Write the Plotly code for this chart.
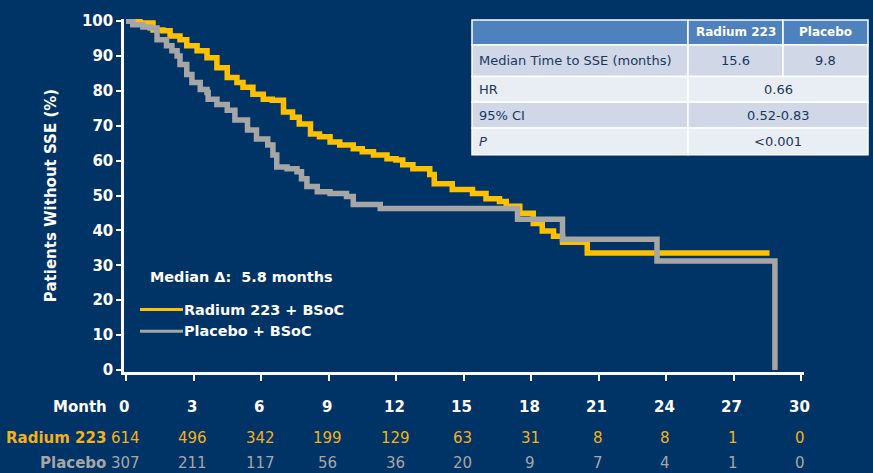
import plotly.graph_objects as go

# Kaplan-Meier style step data (months, % without SSE)
radium_months = [0, 0.62, 1.2, 1.64, 1.96, 2.4, 2.7, 3.16, 3.6, 4.04, 4.5, 4.93, 5.2, 5.64,
                 6.1, 6.5, 7.0, 7.4, 7.7, 8.2, 8.6, 9.07, 9.5, 10.1, 10.5, 11.0, 11.6, 12.0,
                 12.3, 12.75, 13.5, 13.7, 14.5, 15.4, 16.0, 16.6, 16.9, 17.5, 18.1, 18.5,
                 19.0, 19.4, 20.5, 28.6]
radium_pct = [100, 99.4, 97.4, 97.2, 95.7, 94.6, 92.9, 91.5, 89.5, 86.6, 83.8, 82.4, 81, 79,
              77.6, 77.3, 73.9, 72.4, 70.5, 67.6, 66.8, 65.3, 64.5, 63.4, 62.5, 61.6, 60.5, 60.2,
              58.8, 57.7, 56, 53.4, 51.7, 50.6, 49.1, 48.3, 46.9, 44.9, 42, 39.8,
              38.3, 36.6, 33.5, 33.5]

placebo_months = [0, 0.3, 0.75, 1.07, 1.38, 1.8, 2.04, 2.27, 2.4, 2.7, 2.93, 3.3, 3.6, 3.65,
                  4.04, 4.5, 4.84, 5.4, 5.8, 6.3, 6.53, 6.7, 7.16, 7.6, 7.8, 8.04, 8.5, 9.07,
                  9.8, 10.1, 11.3, 17.4, 19.4, 23.6, 28.84]
placebo_pct = [100, 98.9, 98.3, 98, 94.6, 92.9, 91.5, 90, 87.5, 84.7, 82.4, 80.4, 79.5, 77.6,
               76.1, 74.4, 71.6, 68.8, 66.2, 64.5, 61.6, 58.2, 57.7, 56.8, 54.8, 52.6, 51.1, 50.6,
               49.7, 47.4, 46.3, 43.2, 37.5, 31.2, 0]

series_names = ["Radium 223 + BSoC", "Placebo + BSoC"]

# Numbers at risk
risk_months = [0, 3, 6, 9, 12, 15, 18, 21, 24, 27, 30]
risk_radium = [614, 496, 342, 199, 129, 63, 31, 8, 8, 1, 0]
risk_placebo = [307, 211, 117, 56, 36, 20, 9, 7, 4, 1, 0]

# Summary table
table_header = ["", "Radium 223", "Placebo"]
table_rows = [
    ["Median Time to SSE (months)", "15.6", "9.8"],
    ["HR", "0.66"],
    ["95% CI", "0.52-0.83"],
    ["<i>P</i>", "&lt;0.001"],
]

y_ticks = list(range(0, 101, 10))

BG = "#003366"
YELLOW = "#FFC000"
GREY = "#A6A6A6"
YELLOW_TXT = "#F2B21C"
FONT = "DejaVu Sans"

W, H = 873, 473
ML, MR, MT, MB = 124, 69, 16, 101
PW, PH = W - ML - MR, H - MT - MB


def px(x):
    return (x - ML) / PW


def py(y):
    return (H - MB - y) / PH


fig = go.Figure()

fig.add_trace(go.Scatter(x=radium_months, y=radium_pct, mode="lines", line_shape="hv",
                         name=series_names[0], line=dict(color=YELLOW, width=5.5),
                         showlegend=False, hoverinfo="skip"))
fig.add_trace(go.Scatter(x=placebo_months, y=placebo_pct, mode="lines", line_shape="hv",
                         name=series_names[1], line=dict(color=GREY, width=5.5),
                         showlegend=False, hoverinfo="skip"))

annotations = []
shapes = []

bold15 = dict(family=FONT, size=15, color="white", weight="bold")
bold14 = dict(family=FONT, size=14.4, color="white", weight="bold")

annotations.append(dict(xref="paper", yref="paper", x=px(148), y=py(276), xanchor="left",
                        yanchor="middle", showarrow=False, text="Median Δ:  5.8 months",
                        font=bold14))

# hand-placed legend keys
for name, color, ly in zip(series_names, [YELLOW, GREY], [309, 331]):
    shapes.append(dict(type="line", xref="paper", yref="paper", x0=px(140), x1=px(183),
                       y0=py(ly), y1=py(ly), line=dict(color=color, width=3)))
    annotations.append(dict(xref="paper", yref="paper", x=px(182), y=py(ly), xanchor="left",
                            yanchor="middle", showarrow=False, text=name, font=bold14))

# number-at-risk rows
row_y = {"month": py(407), "radium": py(438.5), "placebo": py(463.5)}
annotations.append(dict(xref="paper", yref="paper", x=px(109), y=row_y["month"],
                        xanchor="right", yanchor="middle", showarrow=False, text="Month",
                        font=bold15))
annotations.append(dict(xref="paper", yref="paper", x=px(108), y=row_y["radium"],
                        xanchor="right", yanchor="middle", showarrow=False, text="Radium 223",
                        font=dict(family=FONT, size=15, color=YELLOW_TXT, weight="bold")))
annotations.append(dict(xref="paper", yref="paper", x=px(108), y=row_y["placebo"],
                        xanchor="right", yanchor="middle", showarrow=False, text="Placebo",
                        font=dict(family=FONT, size=15, color=GREY, weight="bold")))
for m, r, p in zip(risk_months, risk_radium, risk_placebo):
    annotations.append(dict(xref="x", yref="paper", x=m, y=row_y["month"], xshift=-2,
                            yanchor="middle", showarrow=False, text=str(m), font=bold15))
    annotations.append(dict(xref="x", yref="paper", x=m, y=row_y["radium"], xshift=-1,
                            yanchor="middle", showarrow=False, text=str(r),
                            font=dict(family=FONT, size=15, color=YELLOW_TXT)))
    annotations.append(dict(xref="x", yref="paper", x=m, y=row_y["placebo"], xshift=-1,
                            yanchor="middle", showarrow=False, text=str(p),
                            font=dict(family=FONT, size=15, color=GREY)))

# summary table drawn as cells
col_edges = [472, 688, 783, 868]
row_edges = [17, 42, 74, 100, 126, 153]
row_fills = ["#4F81BD", "#D0D8E8", "#E9EDF4", "#D0D8E8", "#E9EDF4"]
TXT = "#1B365D"


def cell(x0, x1, y0, y1, fill):
    shapes.append(dict(type="rect", xref="paper", yref="paper", x0=px(x0), x1=px(x1),
                       y0=py(y1), y1=py(y0), fillcolor=fill,
                       line=dict(color="white", width=1.5), layer="above"))


def cell_text(text, x0, x1, y0, y1, align="center", bold=False, color=TXT, size=13):
    if align == "left":
        x, xa = px(x0 + 5), "left"
    else:
        x, xa = px((x0 + x1) / 2), "center"
    annotations.append(dict(xref="paper", yref="paper", x=x, y=py((y0 + y1) / 2),
                            xanchor=xa, yanchor="middle", showarrow=False, text=text,
                            font=dict(family=FONT, size=size, color=color,
                                      weight="bold" if bold else "normal")))


# header row
for c in range(3):
    cell(col_edges[c], col_edges[c + 1], row_edges[0], row_edges[1], row_fills[0])
    if table_header[c]:
        cell_text(table_header[c], col_edges[c], col_edges[c + 1], row_edges[0], row_edges[1],
                  bold=True, color="white", size=12)

for r, row in enumerate(table_rows):
    y0, y1 = row_edges[r + 1], row_edges[r + 2]
    fill = row_fills[r + 1]
    cell(col_edges[0], col_edges[1], y0, y1, fill)
    cell_text(row[0], col_edges[0], col_edges[1], y0, y1, align="left")
    if len(row) == 3:
        for c in (1, 2):
            cell(col_edges[c], col_edges[c + 1], y0, y1, fill)
            cell_text(row[c], col_edges[c], col_edges[c + 1], y0, y1)
    else:
        cell(col_edges[1], col_edges[3], y0, y1, fill)
        cell_text(row[1], col_edges[1], col_edges[3], y0, y1)

fig.update_layout(
    width=W, height=H,
    margin=dict(l=ML, r=MR, t=MT, b=MB),
    paper_bgcolor=BG, plot_bgcolor=BG,
    font=dict(family=FONT, color="white"),
    showlegend=False,
    annotations=annotations,
    shapes=shapes,
)

fig.update_xaxes(range=[-0.089, 30.133], showgrid=False, zeroline=False,
                 showline=True, linecolor="white", linewidth=2.5,
                 ticks="outside", ticklen=6, tickwidth=2, tickcolor="white",
                 tickvals=risk_months, showticklabels=False)
fig.update_yaxes(range=[-0.57, 100.57], showgrid=False, zeroline=False,
                 showline=True, linecolor="white", linewidth=2.5,
                 ticks="outside", ticklen=5, tickwidth=2, tickcolor="white",
                 tickvals=y_ticks,
                 tickfont=dict(family=FONT, size=15, color="white", weight="bold"),
                 title=dict(text="Patients Without SSE (%)", standoff=22,
                            font=dict(family=FONT, size=15, color="white", weight="bold")))

fig.write_html("out.html")
